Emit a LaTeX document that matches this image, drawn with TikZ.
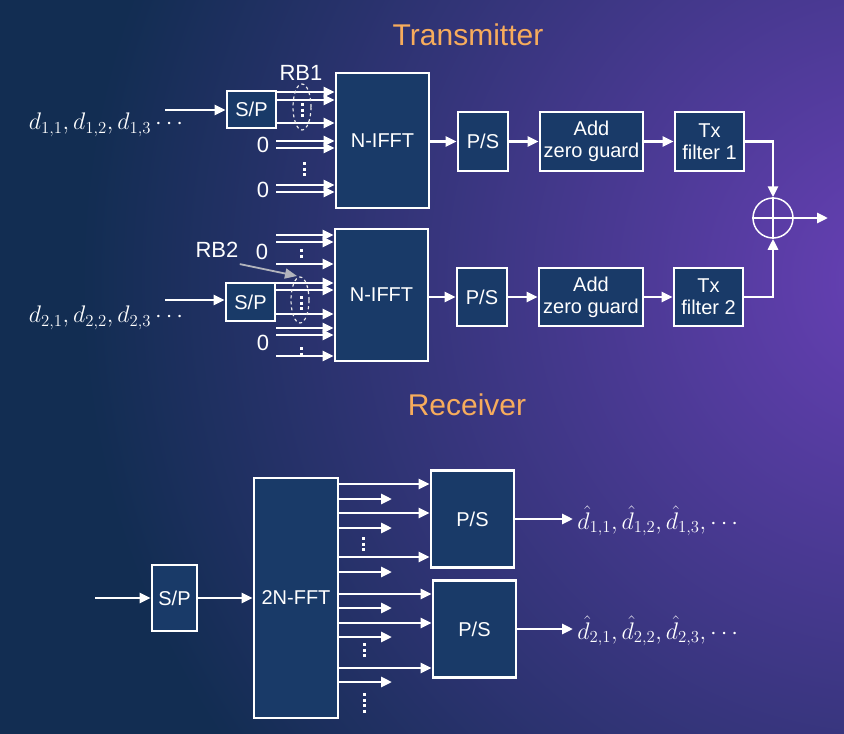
\documentclass[tikz,border=0pt]{standalone}
\usepackage{fix-cm}
\usepackage[no-math]{fontspec}
\setmainfont{Liberation Sans}
\usetikzlibrary{arrows.meta}
\definecolor{bgdark}{RGB}{18,45,82}
\definecolor{bgpurple}{RGB}{104,64,182}
\definecolor{boxblue}{RGB}{25,58,104}
\definecolor{titleorange}{RGB}{247,172,92}
\definecolor{rbgray}{RGB}{178,180,188}

\begin{document}
\begin{tikzpicture}[x=1pt,y=-1pt,white,line width=2.8pt]
\tikzset{blk/.style={draw=white,fill=boxblue,line width=2.8pt,inner sep=0pt,
align=center,font=\fontsize{20}{22}\selectfont},
arr/.style={-{Triangle[length=11pt,width=10pt]}},
vdots/.style={line width=3pt,dash pattern=on 3pt off 2.5pt},
rb/.style={draw=white!85!gray,dashed,line width=1.2pt},
ttl/.style={text=titleorange,font=\fontsize{30}{32}\selectfont},
lbl/.style={text=white,font=\fontsize{22}{24}\selectfont,inner sep=0pt},
mlbl/.style={text=white,font=\fontsize{24}{26}\selectfont,inner sep=0pt},
}
\fill[bgdark] (0,0) rectangle (844,734);
\begin{scope}
\clip (0,0) rectangle (844,734);
\shade[inner color=bgpurple,outer color=bgdark] (900,280) circle (820pt);
\end{scope}
\useasboundingbox (0,0) rectangle (844,734);

\node[ttl] (txt) at (468,35) {Transmitter};
\node[ttl] (rxt) at (467,405) {Receiver};

\node[blk,minimum width=49pt,minimum height=37pt] (sp1) at (251.5,109.5) {S/P};
\node[blk,minimum width=93pt,minimum height=135pt] (ifft1) at (382.5,140.5) {N-IFFT};
\node[blk,minimum width=50pt,minimum height=59pt] (ps1) at (483,141.5) {P/S};
\node[blk,minimum width=103pt,minimum height=59pt] (zg1) at (591.5,141.5) {Add\\zero guard};
\node[blk,minimum width=69pt,minimum height=59pt] (tx1) at (709.5,141.5) {Tx\\filter 1};
\node[blk,minimum width=49pt,minimum height=38pt] (sp2) at (250.5,302) {S/P};
\node[blk,minimum width=93pt,minimum height=132pt] (ifft2) at (381.5,295) {N-IFFT};
\node[blk,minimum width=50pt,minimum height=58pt] (ps2) at (482,297) {P/S};
\node[blk,minimum width=104pt,minimum height=58pt] (zg2) at (591,297) {Add\\zero guard};
\node[blk,minimum width=69pt,minimum height=58pt] (tx2) at (708.5,297) {Tx\\filter 2};
\node[draw=white,line width=1.5pt,circle,minimum size=40pt,inner sep=0pt] (sum) at (773,218) {};
\draw[line width=1.5pt] (sum.north) -- (sum.south) (sum.west) -- (sum.east);
\coordinate (out) at (828,218);

\coordinate (in1) at (165,110);
\coordinate (in2) at (165,300);
\node[mlbl] (d1) at (106,125) {$d_{1,1}, d_{1,2}, d_{1,3} \cdots$};
\node[mlbl] (d2) at (106,318) {$d_{2,1}, d_{2,2}, d_{2,3} \cdots$};
\draw[arr] (in1) -- (sp1.west |- in1);
\draw[arr] (in2) -- (sp2.west |- in2);

\foreach \y in {92,100,123}
\draw[arr] (sp1.east |- 0,\y) -- (ifft1.west |- 0,\y);
\draw[vdots] (302,103) -- (302,118);
\draw[rb] (302,107) ellipse (9pt and 23pt);
\node[lbl] (rb1) at (301,73) {RB1};
\node[lbl] (z1) at (263,145) {0};
\node[lbl] (z2) at (263,190) {0};
\foreach \y in {141,148,185,192}
\draw[arr] (276,\y) -- (ifft1.west |- 0,\y);
\draw[vdots] (304,162) -- (304,177);

\foreach \y in {283,290,314}
\draw[arr] (sp2.east |- 0,\y) -- (ifft2.west |- 0,\y);
\draw[vdots] (301,296) -- (301,311);
\draw[rb] (300,300) ellipse (9pt and 23pt);
\node[lbl] (rb2) at (217,250) {RB2};
\draw[rbgray,line width=1.8pt,-{Triangle[length=12pt,width=10pt]}] ([yshift=-5pt]rb2.south east) -- (297,276);
\node[lbl] (z3) at (262,252) {0};
\node[lbl] (z4) at (263,343) {0};
\foreach \y in {235,242,264,328,335,356}
\draw[arr] (276,\y) -- (ifft2.west |- 0,\y);
\draw[vdots] (301,249) -- (301,258);
\draw[vdots] (301,347) -- (301,356);

\draw[arr] (ifft1.east |- ps1) -- (ps1.west);
\draw[arr] (ps1) -- (zg1);
\draw[arr] (zg1) -- (tx1);
\draw[arr] (tx1.east) -| (sum.north);
\draw[arr] (ifft2.east |- ps2) -- (ps2.west);
\draw[arr] (ps2) -- (zg2);
\draw[arr] (zg2) -- (tx2);
\draw[arr] (tx2.east) -| (sum.south);
\draw[arr] (sum.east) -- (out);

\coordinate (rin) at (95,598);
\node[blk,minimum width=45pt,minimum height=66pt] (rsp) at (174.5,598) {S/P};
\node[blk,minimum width=84pt,minimum height=240pt] (fft) at (296,598) {2N-FFT};
\node[blk,minimum width=83pt,minimum height=97pt] (rps1) at (472.5,519) {P/S};
\node[blk,minimum width=83pt,minimum height=97pt] (rps2) at (474.5,629) {P/S};
\draw[arr] (rin) -- (rsp.west);
\draw[arr] (rsp) -- (fft);
\foreach \y in {484,513,557}
\draw[arr] (fft.east |- 0,\y) -- (rps1.west |- 0,\y);
\foreach \y in {594,623,668}
\draw[arr] (fft.east |- 0,\y) -- (rps2.west |- 0,\y);
\foreach \y in {499,528,572,608,637,682}
\draw[arr] (fft.east |- 0,\y) -- (392,\y);
\draw[vdots] (363,537) -- (363,552);
\draw[vdots] (364,643) -- (364,658);
\draw[vdots] (364,693) -- (364,714);

\coordinate (o1) at (573,519);
\coordinate (o2) at (573,629);
\draw[arr] (rps1) -- (o1);
\draw[arr] (rps2) -- (o2);
\node[mlbl,anchor=west] (dh1) at ([xshift=3pt,yshift=-2pt]o1) {$\hat{d}_{1,1}, \hat{d}_{1,2}, \hat{d}_{1,3}, \cdots$};
\node[mlbl,anchor=west] (dh2) at ([xshift=3pt,yshift=-2pt]o2) {$\hat{d}_{2,1}, \hat{d}_{2,2}, \hat{d}_{2,3}, \cdots$};
\end{tikzpicture}
\end{document}
